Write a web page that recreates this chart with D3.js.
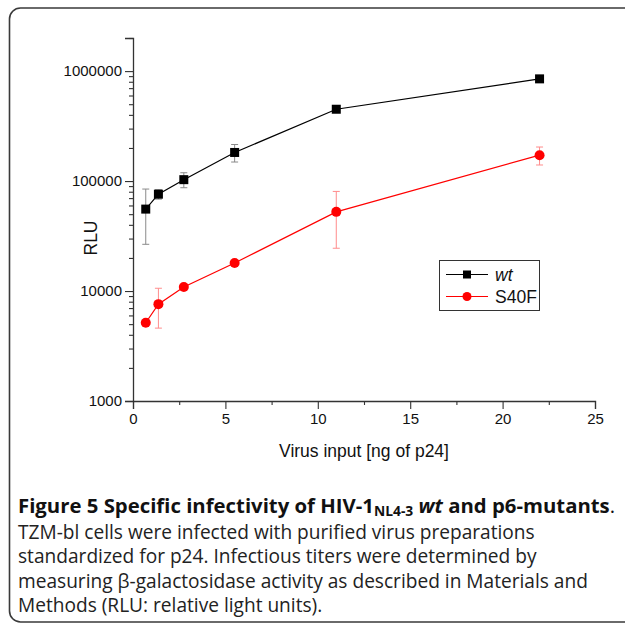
<!DOCTYPE html>
<html><head><meta charset="utf-8">
<script src="https://cdn.jsdelivr.net/npm/d3@7"></script>
<style>body{margin:0;background:#fff}svg{display:block}</style></head><body>
<svg id="c" width="625" height="627"></svg>
<script>
// ---- data ----
const xValues = [0.69, 1.375, 2.75, 5.5, 11, 22];
const wtValues = [55600, 76000, 103000, 182000, 450000, 850000];
const wtErrors = [29000, 7500, 16000, 33000, 0, 0];
const s40fValues = [5150, 7600, 10900, 18000, 52500, 172000];
const s40fErrors = [0, 3000, 0, 0, 28000, 32000];
const seriesNames = ["wt", "S40F"];
const xTicks = [0, 5, 10, 15, 20, 25];
const xMinorTicks = [2.5, 7.5, 12.5, 17.5, 22.5];
const yTicks = [1000, 10000, 100000, 1000000];
const yMinorTicks = [2,3,4,5,6,7,8,9].flatMap(m => [1000,10000,100000,1000000].map(d => m*d)).filter(v => v <= 2000000);
const xTitle = "Virus input [ng of p24]";
const yTitle = "RLU";
const captionBody = [
  "TZM-bl cells were infected with purified virus preparations",
  "standardized for p24. Infectious titers were determined by",
  "measuring β-galactosidase activity as described in Materials and",
  "Methods (RLU: relative light units)."
];

const svg = d3.select("#c");
// frame
svg.append("rect").attr("x", 9.5).attr("y", 8).attr("width", 700).attr("height", 614)
  .attr("rx", 11).attr("fill", "none").attr("stroke", "#3a3a3a").attr("stroke-width", 1.6);

const x = d3.scaleLinear().domain([0, 25]).range([133, 595]);
const y = d3.scaleLog().domain([1000, 2000000]).range([401, 38]);
const axisFont = "'Liberation Sans', Arial, sans-serif";

// axes
const gx = svg.append("g").attr("transform", "translate(0,401)");
gx.call(d3.axisBottom(x).tickValues(xTicks).tickFormat(d3.format("d")).tickSize(8).tickPadding(4));
const gxm = svg.append("g").attr("transform", "translate(0,401)");
gxm.call(d3.axisBottom(x).tickValues(xMinorTicks).tickFormat("").tickSize(4));
gxm.select(".domain").remove();

const gy = svg.append("g").attr("transform", "translate(133,0)");
gy.call(d3.axisLeft(y).tickValues(yTicks).tickFormat(d3.format("d")).tickSize(8).tickPadding(3));
const gym = svg.append("g").attr("transform", "translate(133,0)");
gym.call(d3.axisLeft(y).tickValues(yMinorTicks).tickFormat("").tickSize(4));
gym.select(".domain").remove();

svg.selectAll(".domain").attr("stroke", "#333").attr("stroke-width", 1.3);
svg.selectAll(".tick line").attr("stroke", "#333").attr("stroke-width", 1.1);
svg.selectAll(".tick text").attr("font-family", axisFont).attr("font-size", 15).attr("fill", "#111");

svg.append("text").attr("x", 364).attr("y", 457).attr("text-anchor", "middle")
  .attr("font-family", axisFont).attr("font-size", 17.5).attr("fill", "#111").text(xTitle);
svg.append("text").attr("transform", "translate(97,238) rotate(-90)").attr("text-anchor", "middle")
  .attr("font-family", axisFont).attr("font-size", 17.5).attr("fill", "#111").text(yTitle);

// series
const series = [
  {name: seriesNames[0], vals: wtValues, errs: wtErrors, color: "#000", errColor: "#8a8a8a", shape: "square"},
  {name: seriesNames[1], vals: s40fValues, errs: s40fErrors, color: "#ff0000", errColor: "#ff8c8c", shape: "circle"}
];
const line = d3.line().x(d => x(d[0])).y(d => y(d[1]));
series.forEach(s => {
  const pts = xValues.map((xv, i) => [xv, s.vals[i], s.errs[i]]);
  const g = svg.append("g");
  pts.filter(p => p[2] > 0).forEach(p => {
    const cx = x(p[0]), y1 = y(p[1] + p[2]), y2 = y(p[1] - p[2]);
    g.append("line").attr("x1", cx).attr("x2", cx).attr("y1", y1).attr("y2", y2).attr("stroke", s.errColor).attr("stroke-width", 1);
    [y1, y2].forEach(yy => g.append("line").attr("x1", cx - 3.5).attr("x2", cx + 3.5).attr("y1", yy).attr("y2", yy).attr("stroke", s.errColor).attr("stroke-width", 1));
  });
  g.append("path").datum(pts).attr("d", line).attr("fill", "none").attr("stroke", s.color).attr("stroke-width", 1.2);
  pts.forEach(p => {
    if (s.shape === "square") g.append("rect").attr("x", x(p[0]) - 4.5).attr("y", y(p[1]) - 4.5).attr("width", 9).attr("height", 9).attr("fill", s.color);
    else g.append("circle").attr("cx", x(p[0])).attr("cy", y(p[1])).attr("r", 5).attr("fill", s.color);
  });
});

// legend
const lg = svg.append("g");
lg.append("rect").attr("x", 439.5).attr("y", 260.5).attr("width", 100).attr("height", 50).attr("fill", "#fff").attr("stroke", "#333").attr("stroke-width", 1);
series.forEach((s, i) => {
  const ly = 274.5 + i * 22;
  lg.append("line").attr("x1", 446).attr("x2", 488).attr("y1", ly).attr("y2", ly).attr("stroke", s.color).attr("stroke-width", 1.2);
  if (s.shape === "square") lg.append("rect").attr("x", 467 - 4).attr("y", ly - 4).attr("width", 8).attr("height", 8).attr("fill", s.color);
  else lg.append("circle").attr("cx", 467).attr("cy", ly).attr("r", 4.5).attr("fill", s.color);
  lg.append("text").attr("x", 495).attr("y", ly + 6).attr("font-family", axisFont).attr("font-size", 17.5)
    .attr("font-style", i === 0 ? "italic" : "normal").attr("fill", "#111").text(s.name);
});

// caption
const capFont = "'Open Sans', sans-serif";
const t1 = svg.append("text").attr("x", 18).attr("y", 513).attr("font-family", capFont).attr("font-weight", "bold").attr("font-size", 17).attr("fill", "#111");
t1.append("tspan").text("Figure 5 Specific infectivity of HIV-1");
const sub = t1.append("tspan").attr("font-size", 12).attr("dy", 3).text("NL4-3");
t1.append("tspan").attr("dy", -3).text(" ");
t1.append("tspan").attr("font-style", "italic").text("wt");
t1.append("tspan").text(" and p6-mutants");
t1.append("tspan").attr("font-weight", "normal").text(".");
const w1 = t1.node().getComputedTextLength();
const fs1 = 17 * 599 / w1;
t1.attr("font-size", fs1);
sub.attr("font-size", fs1 * 0.68);

const bl = [539, 563, 588, 612];
const body = svg.append("g").attr("font-family", capFont).attr("fill", "#222");
const bodyTexts = captionBody.map((txt, i) => body.append("text").attr("x", 18).attr("y", bl[i]).attr("font-size", 16).text(txt));
const fsBody = 16 * 517 / bodyTexts[0].node().getComputedTextLength();
bodyTexts.forEach(t => t.attr("font-size", fsBody));
</script>
</body></html>
